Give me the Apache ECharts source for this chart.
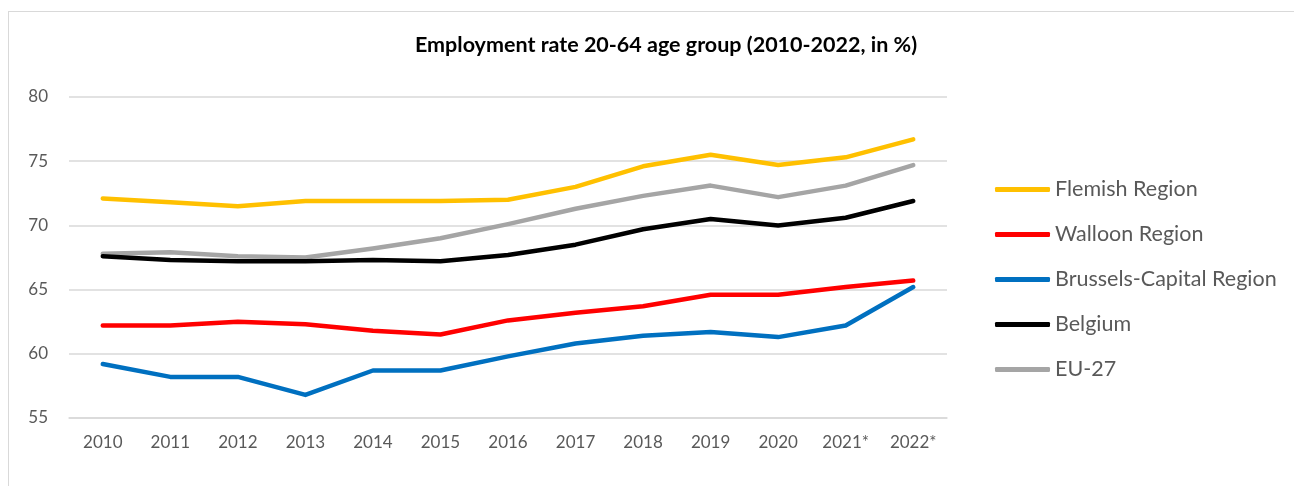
<!DOCTYPE html>
<html>
<head>
<meta charset="utf-8">
<script src="https://cdn.jsdelivr.net/npm/echarts@6/dist/echarts.min.js"></script>
<style>
html,body{margin:0;padding:0;background:#fff;}
#frame{position:absolute;left:8px;top:11px;width:1300px;height:490px;border-left:1px solid #d9d9d9;border-top:1px solid #d9d9d9;}
#chart{position:absolute;left:0;top:0;width:1294px;height:486px;}
</style>
</head>
<body>
<div id="frame"></div>
<div id="chart"></div>
<script>
const categories = ['2010','2011','2012','2013','2014','2015','2016','2017','2018','2019','2020','2021*','2022*'];
const flemish  = [72.1, 71.8, 71.5, 71.9, 71.9, 71.9, 72.0, 73.0, 74.6, 75.5, 74.7, 75.3, 76.7];
const walloon  = [62.2, 62.2, 62.5, 62.3, 61.8, 61.5, 62.6, 63.2, 63.7, 64.6, 64.6, 65.2, 65.7];
const brussels = [59.2, 58.2, 58.2, 56.8, 58.7, 58.7, 59.8, 60.8, 61.4, 61.7, 61.3, 62.2, 65.2];
const belgium  = [67.6, 67.3, 67.2, 67.2, 67.3, 67.2, 67.7, 68.5, 69.7, 70.5, 70.0, 70.6, 71.9];
const eu27     = [67.8, 67.9, 67.6, 67.5, 68.2, 69.0, 70.1, 71.3, 72.3, 73.1, 72.2, 73.1, 74.7];
const seriesNames = ['Flemish Region','Walloon Region','Brussels-Capital Region','Belgium','EU-27'];
const colors = ['#FFC000','#FF0000','#0070C0','#000000','#A5A5A5'];
const FONT = 'Lato, "Open Sans", sans-serif';

const chart = echarts.init(document.getElementById('chart'), null, {renderer:'canvas'});
const dataList = [flemish, walloon, brussels, belgium, eu27];
const zOrder = [5, 4, 3, 2, 1];
chart.setOption({
  animation:false,
  backgroundColor:'transparent',
  title:{
    text:'Employment rate 20-64 age group (2010-2022, in %)',
    left:661, textAlign:'center', top:29,
    textStyle:{fontFamily:FONT, fontSize:21.5, fontWeight:'bold', color:'#000'}
  },
  legend:{
    orient:'vertical', left:990, top:172,
    itemWidth:55, itemHeight:5, itemGap:20, icon:'roundRect',
    textStyle:{fontFamily:FONT, fontSize:21.5, color:'#595959', lineHeight:25},
    data:seriesNames
  },
  grid:{left:69, right:347, top:97, bottom:68},
  xAxis:{
    type:'category', data:categories, boundaryGap:true,
    axisLine:{show:true, lineStyle:{color:'#d9d9d9', width:1.5}},
    axisTick:{show:false},
    axisLabel:{fontFamily:FONT, fontSize:17, color:'#595959', margin:16}
  },
  yAxis:{
    type:'value', min:55, max:80, interval:5,
    axisLine:{show:false}, axisTick:{show:false},
    splitLine:{lineStyle:{color:'#d9d9d9', width:1.5}},
    axisLabel:{fontFamily:FONT, fontSize:17, color:'#595959', margin:21}
  },
  series: seriesNames.map((n,i)=>({
    name:n, type:'line', data:dataList[i], z:zOrder[i],
    symbol:'none', showSymbol:false,
    lineStyle:{color:colors[i], width:4.5, cap:'round', join:'round'},
    itemStyle:{color:colors[i]}
  }))
});
</script>
</body>
</html>
